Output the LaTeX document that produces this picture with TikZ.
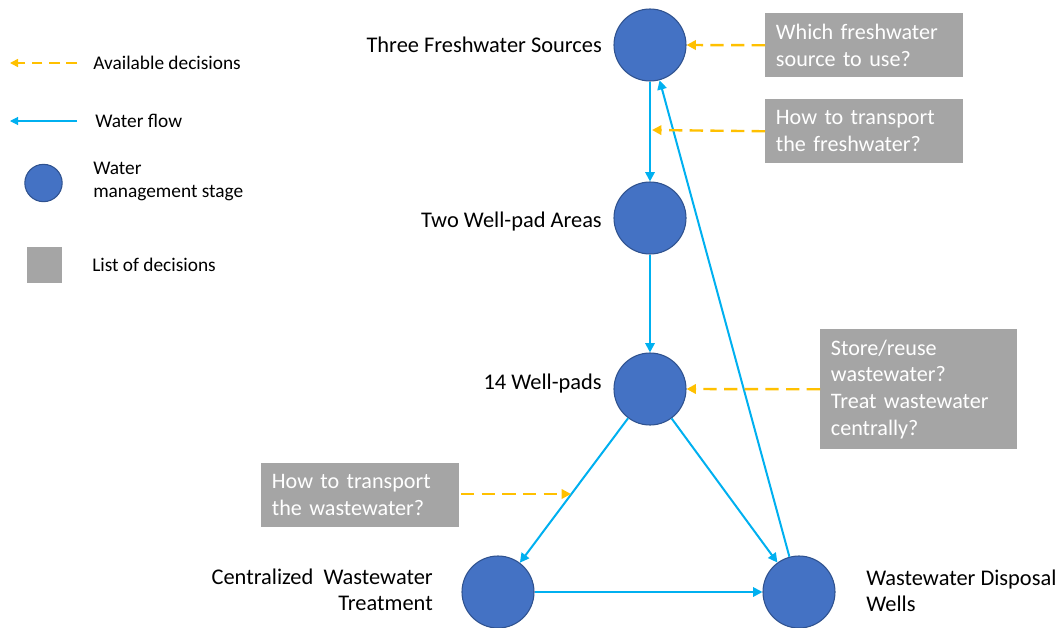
\documentclass[tikz,border=0pt]{standalone}
\usepackage{fontspec}
\setmainfont{Carlito}
\usetikzlibrary{arrows.meta}
\definecolor{stagefill}{HTML}{4472C4}
\definecolor{stageline}{HTML}{2F528F}
\definecolor{flowblue}{HTML}{00B0F0}
\definecolor{decorange}{HTML}{FFC000}
\definecolor{boxgray}{HTML}{A5A5A5}
\tikzset{
  stage/.style={circle,fill=stagefill,draw=stageline,line width=0.8pt,minimum size=54pt,inner sep=0pt},
  legstage/.style={circle,fill=stagefill,draw=stageline,line width=0.8pt,minimum size=28pt,inner sep=0pt},
  decbox/.style={fill=boxgray,text=white,anchor=north west,inner xsep=8pt,inner ysep=0pt,align=left,font=\fontsize{16.6}{20}\selectfont},
  flow/.style={draw=flowblue,line width=1.5pt,-{Triangle[length=7pt,width=7pt]}},
  dec/.style={draw=decorange,line width=1.8pt,dash pattern=on 10pt off 5.5pt,-{Triangle[length=7pt,width=7pt]}},
  lbl/.style={font=\fontsize{16.8}{19.5}\selectfont,inner sep=0pt},
  leg/.style={font=\fontsize{14.5}{17.3}\selectfont,inner sep=0pt,anchor=west,align=left},
}
\begin{document}
\begin{tikzpicture}[x=0.75pt,y=-0.75pt]
\useasboundingbox (0,0) rectangle (1061,628);
% stages
\node[stage] (src) at (650,45) {};
\node[stage] (area) at (650,218) {};
\node[stage] (pads) at (650,389) {};
\node[stage] (cwt) at (498,592) {};
\node[stage] (swd) at (799,592) {};
% stage labels
\node[lbl,anchor=east] (lsrc) at (602,45) {Three Freshwater Sources};
\node[lbl,anchor=east] (larea) at (602,222) {Two Well-pad Areas};
\node[lbl,anchor=east] (lpads) at (602,384) {14 Well-pads};
\node[lbl,anchor=east,align=right] (lcwt) at (433,590) {Centralized\ \ Wastewater\\Treatment};
\node[lbl,anchor=west,align=left] (lswd) at (866,591) {Wastewater Disposal\\Wells};
% decision boxes
\node[decbox,minimum width=148.5pt,minimum height=48pt,text width=132.5pt] (b1) at (765,13) {Which freshwater\\source to use?};
\node[decbox,minimum width=148.5pt,minimum height=48pt,text width=132.5pt] (b2) at (765,99) {How to transport\\the freshwater?};
\node[decbox,minimum width=147.75pt,minimum height=90pt,text width=131.75pt] (b3) at (820,329) {Store/reuse\\wastewater?\\Treat wastewater\\centrally?};
\node[decbox,minimum width=148.5pt,minimum height=48pt,text width=132.5pt] (b4) at (261,463) {How to transport\\the wastewater?};
% water flow
\draw[flow] (src) -- (area);
\draw[flow] (area) -- (pads);
\draw[flow] (pads) -- (cwt);
\draw[flow] (pads) -- (swd);
\draw[flow] (cwt) -- (swd);
\draw[flow] (swd) -- (src);
% decisions
\coordinate (t2) at (652,130);
\coordinate (t4) at (571,494);
\coordinate (s4) at (461,494);
\draw[dec] (b1.west) -- (src.east);
\draw[dec] (b2.west) -- (t2);
\draw[dec] (b3.west) -- (pads.east);
\draw[dec] (s4) -- (t4);
% legend
\coordinate (la1) at (77,63); \coordinate (la2) at (10,63);
\draw[dec,line width=1.2pt,dash pattern=on 8pt off 5pt,-{Triangle[length=6pt,width=6pt]}] (la1) -- (la2);
\coordinate (lf1) at (77,121); \coordinate (lf2) at (10,121);
\draw[flow,line width=0.8pt,-{Triangle[length=6pt,width=6pt]}] (lf1) -- (lf2);
\node[legstage] (lc) at (43.5,183) {};
\node[fill=boxgray,minimum width=26.25pt,minimum height=27pt,inner sep=0pt,anchor=north west] (ls) at (27,247) {};
\node[leg] (t1) at (93,63) {Available decisions};
\node[leg] (t2l) at (95,121) {Water flow};
\node[leg] (t3) at (93,181) {Water\\management stage};
\node[leg] (t4l) at (92,265) {List of decisions};
\end{tikzpicture}
\end{document}
